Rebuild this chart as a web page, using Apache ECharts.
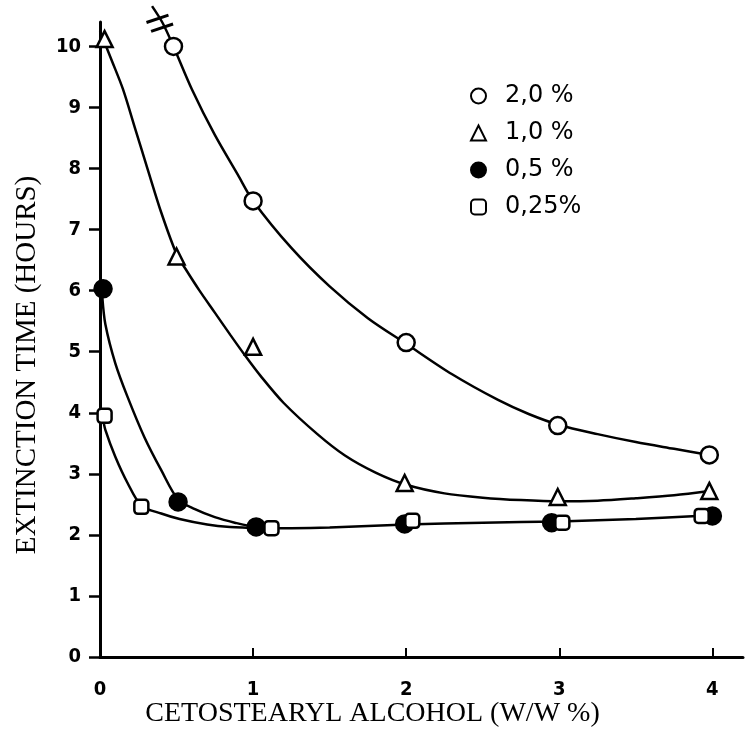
<!DOCTYPE html>
<html><head><meta charset="utf-8">
<script src="https://cdn.jsdelivr.net/npm/echarts@6/dist/echarts.min.js"></script>
<style>html,body{margin:0;background:#fff}#c{width:745px;height:736px}</style>
</head><body><div id="c"></div>
<script>
// ---- data ----
const xTicks = [0, 1, 2, 3, 4];
const yTicks = [0, 1, 2, 3, 4, 5, 6, 7, 8, 9, 10];
const seriesNames = ['2,0 %', '1,0 %', '0,5 %', '0,25%'];
const xTitle = 'CETOSTEARYL ALCOHOL (W/W %)';
const yTitle = 'EXTINCTION TIME (HOURS)';

// measured points
const pts20  = [[0.48, 10.0], [1.0, 7.47], [2.0, 5.15], [2.99, 3.79], [3.98, 3.31]];
const pts10  = [[0.03, 10.12], [0.5, 6.56], [1.0, 5.08], [1.99, 2.85], [2.99, 2.62], [3.98, 2.72]];
const pts05  = [[0.02, 6.03], [0.51, 2.54], [1.02, 2.13], [1.99, 2.18], [2.95, 2.2], [4.0, 2.31]];
const pts025 = [[0.03, 3.95], [0.27, 2.46], [1.12, 2.11], [2.04, 2.23], [3.02, 2.2], [3.93, 2.31]];

// fitted curves
const curve20  = [[0.34, 10.66], [0.41, 10.38], [0.48, 10.0], [0.6, 9.3], [0.75, 8.55], [0.9, 7.9], [1.0, 7.47], [1.25, 6.7], [1.5, 6.07], [1.75, 5.55], [2.0, 5.13], [2.3, 4.63], [2.6, 4.21], [2.8, 3.98], [3.0, 3.8], [3.25, 3.65], [3.5, 3.52], [3.75, 3.41], [3.98, 3.31]];
const curve10  = [[0.0, 10.25], [0.08, 9.75], [0.15, 9.3], [0.23, 8.65], [0.31, 8.0], [0.4, 7.28], [0.5, 6.6], [0.56, 6.35], [0.65, 6.0], [0.75, 5.64], [0.85, 5.28], [0.95, 4.93], [1.05, 4.6], [1.2, 4.16], [1.42, 3.65], [1.6, 3.3], [1.8, 3.02], [2.0, 2.82], [2.25, 2.68], [2.5, 2.61], [2.75, 2.57], [3.0, 2.55], [3.25, 2.56], [3.5, 2.6], [3.75, 2.65], [3.98, 2.72]];
const curve05  = [[0.015, 5.9], [0.035, 5.45], [0.1, 4.81], [0.18, 4.26], [0.29, 3.6], [0.4, 3.06], [0.51, 2.58], [0.62, 2.42], [0.75, 2.29], [0.88, 2.2], [1.02, 2.13], [1.25, 2.11], [1.5, 2.12], [2.0, 2.17], [2.5, 2.2], [3.0, 2.22], [3.5, 2.26], [3.9, 2.31]];
const curve025 = [[0.02, 3.9], [0.035, 3.72], [0.1, 3.28], [0.18, 2.85], [0.27, 2.48], [0.4, 2.35], [0.52, 2.26], [0.7, 2.17], [0.85, 2.13], [1.05, 2.11]];
const breakAt = [0.41, 10.38];

const chart = echarts.init(document.getElementById('c'), null, {renderer: 'canvas'});
const tickFont = {fontFamily: 'DejaVu Sans Condensed', fontWeight: 'bold', fontSize: 20, color: '#000'};
const lineStyle = {color: '#000', width: 2.5};

function curve(data) {
  return {type: 'line', data: data, smooth: 0.3, showSymbol: false, symbol: 'none',
          lineStyle: lineStyle, clip: false, silent: true, z: 2};
}
function marks(name, data, symbol, size, fill) {
  return {type: 'scatter', name: name, data: data, symbol: symbol, symbolSize: size, z: 5,
          itemStyle: {color: fill, borderColor: '#000', borderWidth: 2.5, opacity: 1}};
}

chart.setOption({
  animation: false,
  backgroundColor: '#fff',
  grid: {left: 100, right: 2, top: 22, bottom: 79},
  xAxis: {
    type: 'value', min: 0, max: 4.2,
    axisLine: {show: true, lineStyle: {color: '#000', width: 3}},
    axisTick: {show: true, inside: true, length: 9, customValues: xTicks, lineStyle: {color: '#000', width: 2}},
    axisLabel: {customValues: xTicks, margin: 23, ...tickFont},
    splitLine: {show: false}
  },
  yAxis: {
    type: 'value', min: 0, max: 10.4,
    axisLine: {show: true, lineStyle: {color: '#000', width: 3}},
    axisTick: {show: true, inside: false, length: 11, customValues: yTicks, lineStyle: {color: '#000', width: 2.5}},
    axisLabel: {customValues: yTicks, margin: 19, ...tickFont},
    splitLine: {show: false}
  },
  legend: {
    data: seriesNames, orient: 'vertical', left: 465, top: 79,
    itemWidth: 15, itemHeight: 15, itemGap: 13,
    textStyle: {fontFamily: 'DejaVu Sans', fontSize: 24, color: '#000', padding: [0, 0, 0, 14]},
    selectedMode: false
  },
  series: [
    curve(curve20), curve(curve10), curve(curve05), curve(curve025),
    marks(seriesNames[0], pts20, 'circle', 17, '#fff'),
    marks(seriesNames[1], pts10, 'triangle', 16, '#fff'),
    marks(seriesNames[2], pts05, 'circle', 17, '#000'),
    marks(seriesNames[3], pts025, 'roundRect', 14, '#fff')
  ]
});

// axis titles and axis-break decoration
const p = chart.convertToPixel({gridIndex: 0}, breakAt);
const bars = [-5, 5].map(function (o) {
  const cx = p[0] - 0.46 * o - 3, cy = p[1] - 0.89 * o;
  return {type: 'line', z: 10, shape: {x1: cx - 11, y1: cy + 3.7, x2: cx + 11, y2: cy - 3.7},
          style: {stroke: '#000', lineWidth: 3}};
});
chart.setOption({
  graphic: [
    {type: 'text', left: 'center', x: 0, top: 700,
     style: {text: xTitle, font: '28px "Liberation Serif"', fill: '#000'}},
    {type: 'text', x: 13, y: 365, rotation: Math.PI / 2, originX: 0, originY: 0,
     style: {text: yTitle, font: '29px "Liberation Serif"', fill: '#000', align: 'center', verticalAlign: 'top'}}
  ].concat(bars)
});
</script>
</body></html>
